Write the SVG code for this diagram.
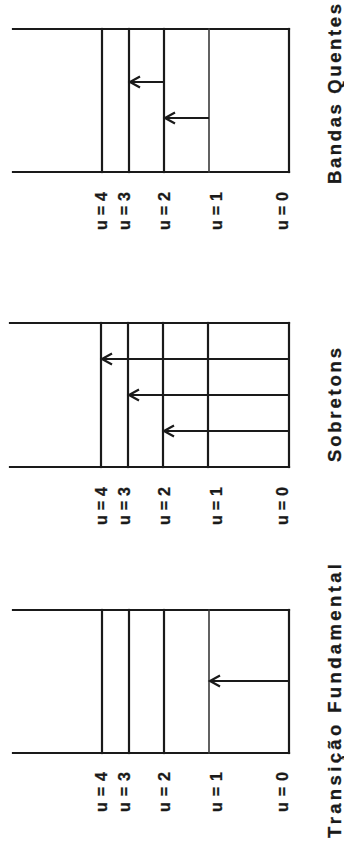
<svg xmlns="http://www.w3.org/2000/svg" width="344" height="846" viewBox="0 0 344 846">
<style>
.ln{stroke:#1a1a1a;stroke-width:2.2;fill:none;stroke-linecap:square}
.thin{stroke:#3a3a3a;stroke-width:1.6}
.ar{stroke:#1a1a1a;stroke-width:2.2;fill:none;marker-end:url(#ah)}
.lb{font-family:"Liberation Sans",Arial,sans-serif;font-weight:bold;font-size:16px;fill:#1a1a1a;stroke:#1a1a1a;stroke-width:0.3}
.tt{font-family:"Liberation Sans",Arial,sans-serif;font-weight:bold;font-size:18.5px;fill:#1a1a1a;stroke:#1a1a1a;stroke-width:0.3}
</style>
<defs>
<marker id="ah" markerUnits="userSpaceOnUse" markerWidth="14" markerHeight="14" refX="11" refY="6.5" orient="auto" viewBox="0 0 14 13">
<path d="M1,1 L11,6.5 L1,12" fill="none" stroke="#1a1a1a" stroke-width="2.2"/>
</marker>
</defs>
<rect width="344" height="846" fill="#fff"/>

<g id="bandas-quentes">
<line class="ln" x1="13" y1="29" x2="289" y2="29"/>
<line class="ln" x1="13" y1="172" x2="289" y2="172"/>
<line class="ln" x1="289" y1="29" x2="289" y2="172"/>
<line class="ln" x1="102" y1="29" x2="102" y2="172"/>
<line class="ln" x1="129" y1="29" x2="129" y2="172"/>
<line class="ln" x1="164" y1="29" x2="164" y2="172"/>
<line class="ln thin" x1="209" y1="29" x2="209" y2="172"/>
<text class="lb" transform="translate(107,230) rotate(-90)" textLength="38" lengthAdjust="spacing">u=4</text>
<text class="lb" transform="translate(130,230) rotate(-90)" textLength="38" lengthAdjust="spacing">u=3</text>
<text class="lb" transform="translate(170,230) rotate(-90)" textLength="38" lengthAdjust="spacing">u=2</text>
<text class="lb" transform="translate(222,230) rotate(-90)" textLength="38" lengthAdjust="spacing">u=1</text>
<text class="lb" transform="translate(288,230) rotate(-90)" textLength="38" lengthAdjust="spacing">u=0</text>
<text class="tt" transform="translate(341,184) rotate(-90)" textLength="180" lengthAdjust="spacing">Bandas Quentes</text>
</g>

<g id="sobretons">
<line class="ln" x1="10" y1="323" x2="289" y2="323"/>
<line class="ln" x1="10" y1="467" x2="289" y2="467"/>
<line class="ln" x1="289" y1="323" x2="289" y2="467"/>
<line class="ln" x1="101" y1="323" x2="101" y2="467"/>
<line class="ln" x1="128" y1="323" x2="128" y2="467"/>
<line class="ln" x1="163" y1="323" x2="163" y2="467"/>
<line class="ln" x1="208" y1="323" x2="208" y2="467"/>
<text class="lb" transform="translate(107,525) rotate(-90)" textLength="38" lengthAdjust="spacing">u=4</text>
<text class="lb" transform="translate(130,525) rotate(-90)" textLength="38" lengthAdjust="spacing">u=3</text>
<text class="lb" transform="translate(170,525) rotate(-90)" textLength="38" lengthAdjust="spacing">u=2</text>
<text class="lb" transform="translate(222,525) rotate(-90)" textLength="38" lengthAdjust="spacing">u=1</text>
<text class="lb" transform="translate(288,525) rotate(-90)" textLength="38" lengthAdjust="spacing">u=0</text>
<text class="tt" transform="translate(341,462) rotate(-90)" textLength="114" lengthAdjust="spacing">Sobretons</text>
</g>

<g id="transicao-fundamental">
<line class="ln" x1="13" y1="610" x2="289" y2="610"/>
<line class="ln" x1="13" y1="753" x2="289" y2="753"/>
<line class="ln" x1="289" y1="610" x2="289" y2="753"/>
<line class="ln" x1="102" y1="610" x2="102" y2="753"/>
<line class="ln" x1="129" y1="610" x2="129" y2="753"/>
<line class="ln" x1="164" y1="610" x2="164" y2="753"/>
<line class="ln thin" x1="209" y1="610" x2="209" y2="753"/>
<text class="lb" transform="translate(107,812) rotate(-90)" textLength="40" lengthAdjust="spacing">u=4</text>
<text class="lb" transform="translate(130,812) rotate(-90)" textLength="40" lengthAdjust="spacing">u=3</text>
<text class="lb" transform="translate(170,812) rotate(-90)" textLength="40" lengthAdjust="spacing">u=2</text>
<text class="lb" transform="translate(222,812) rotate(-90)" textLength="40" lengthAdjust="spacing">u=1</text>
<text class="lb" transform="translate(288,812) rotate(-90)" textLength="40" lengthAdjust="spacing">u=0</text>
<text class="tt" transform="translate(341,838) rotate(-90)" textLength="274" lengthAdjust="spacing">Transição Fundamental</text>
</g>

<g id="connectors">
<line class="ar" x1="164" y1="82" x2="130" y2="82"/>
<line class="ar" x1="209" y1="118" x2="165" y2="118"/>
<line class="ar" x1="289" y1="359" x2="102" y2="359"/>
<line class="ar" x1="289" y1="395" x2="129" y2="395"/>
<line class="ar" x1="289" y1="431" x2="164" y2="431"/>
<line class="ar" x1="289" y1="681" x2="210" y2="681"/>
</g>
</svg>
